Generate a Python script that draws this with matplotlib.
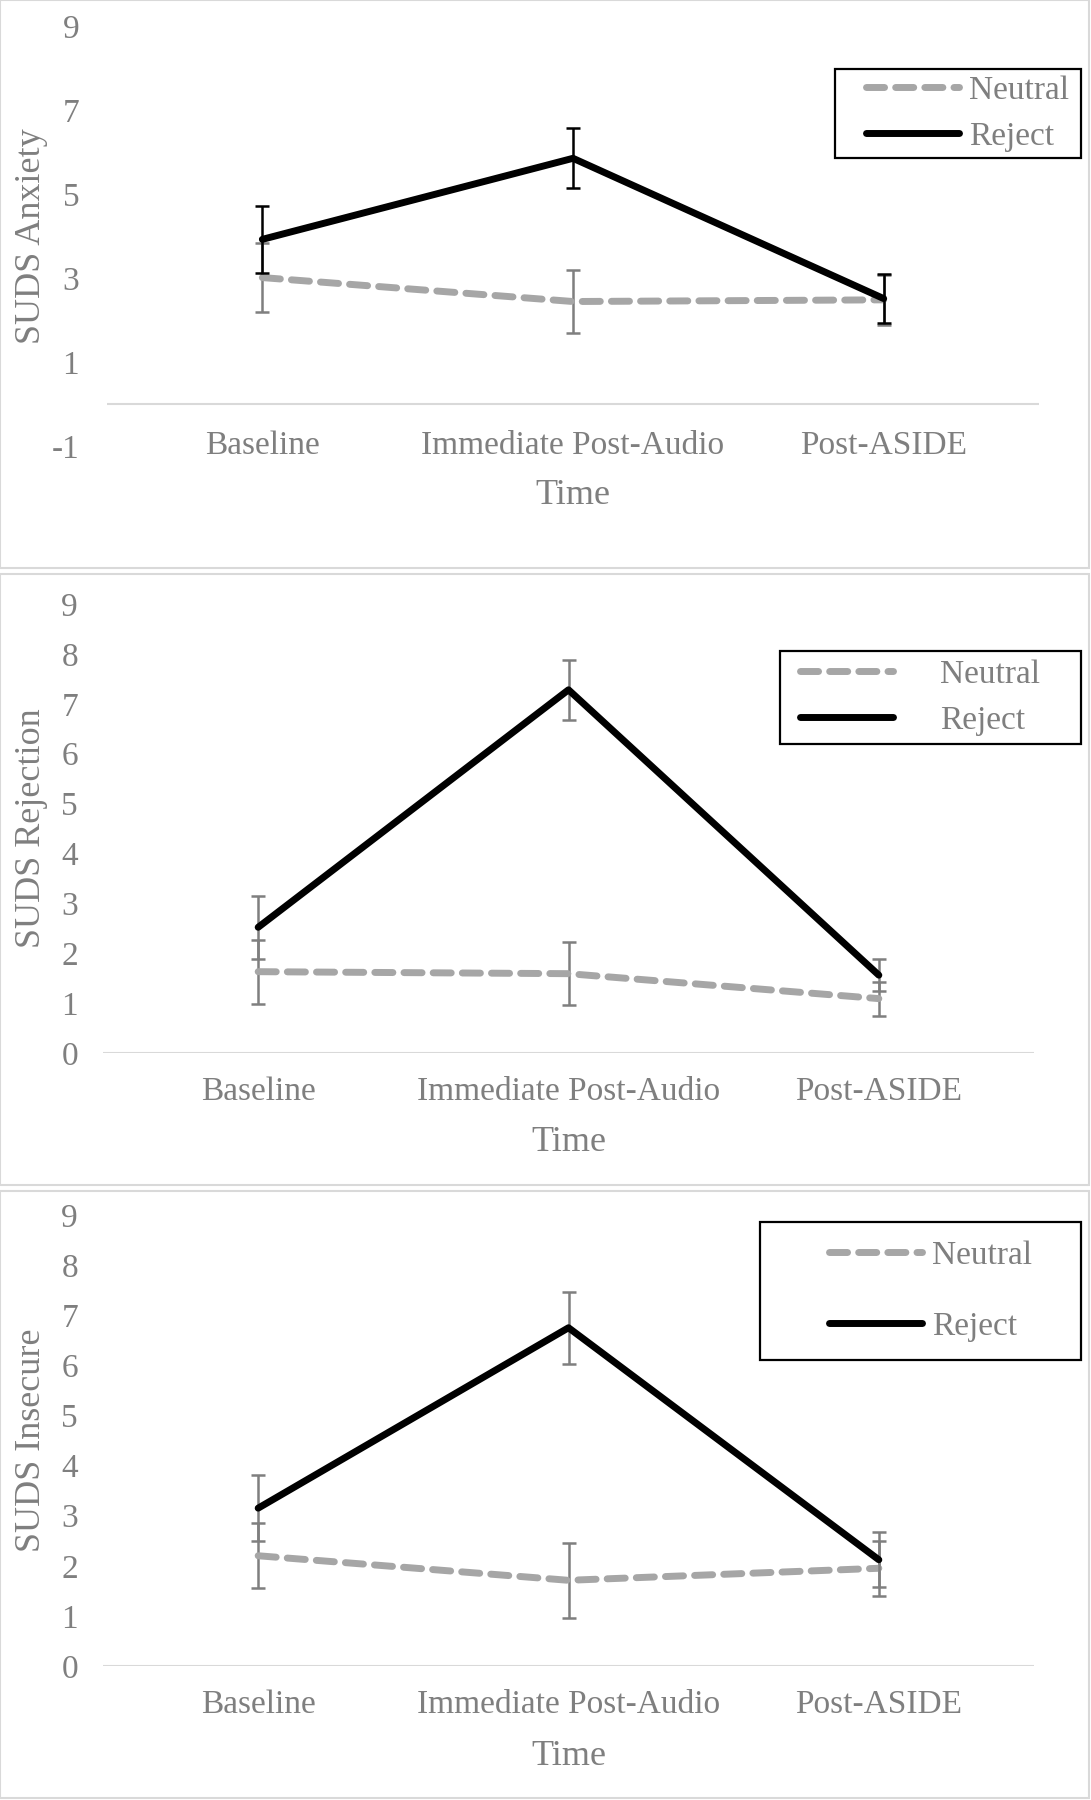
import matplotlib
matplotlib.use("Agg")
import matplotlib.pyplot as plt
from matplotlib.lines import Line2D
from matplotlib.patches import Rectangle

plt.rcParams['font.family'] = ['Liberation Serif', 'DejaVu Serif']
plt.rcParams['axes.unicode_minus'] = False

# data
categories = ['Baseline', 'Immediate Post-Audio', 'Post-ASIDE']

anx_reject = [3.92, 5.85, 2.51]
anx_reject_err = [0.79, 0.71, 0.59]
anx_neutral = [3.01, 2.44, 2.48]
anx_neutral_err = [0.82, 0.74, 0.60]

rej_reject = [2.52, 7.28, 1.56]
rej_reject_err = [0.63, 0.60, 0.32]
rej_neutral = [1.63, 1.59, 1.09]
rej_neutral_err = [0.64, 0.63, 0.34]

ins_reject = [3.15, 6.75, 2.12]
ins_reject_err = [0.66, 0.72, 0.55]
ins_neutral = [2.20, 1.71, 1.95]
ins_neutral_err = [0.65, 0.75, 0.55]

W, H = 1091, 1800
TXT = '#7f7f7f'
NEUTRAL = '#a6a6a6'
DASH = (0, (2.6, 1.6))
fig = plt.figure(figsize=(W / 100, H / 100), dpi=100)


def px_rect(x0, y0, x1, y1, color, lw):
    fig.add_artist(Rectangle((x0 / W, 1 - y1 / H), (x1 - x0) / W, (y1 - y0) / H,
                             transform=fig.transFigure, fill=False,
                             edgecolor=color, linewidth=lw))


def panel(box, ax_px, ylim, yticks, ylabel, reject, rerr, neutral, nerr,
          reject_err_color, cat_y, time_y, tick_pad,
          legend_box, legend_gap, text_pad, right_pad):
    # chart area border
    px_rect(*box, '#d9d9d9', 1.5)
    left, top, right, bottom = ax_px
    ax = fig.add_axes([left / W, 1 - bottom / H, (right - left) / W, (bottom - top) / H])
    x = [0.5, 1.5, 2.5]
    ax.errorbar(x, neutral, yerr=nerr, color=NEUTRAL, ecolor='#7f7f7f',
                elinewidth=1.8, capsize=5, capthick=1.8, linewidth=5,
                linestyle=DASH, dash_capstyle='round', zorder=2)
    ax.errorbar(x, reject, yerr=rerr, color='black', ecolor=reject_err_color,
                elinewidth=1.8, capsize=5, capthick=1.8, linewidth=5,
                solid_capstyle='round', zorder=3)
    ax.axhline(0, color='#d9d9d9', linewidth=1.5, zorder=1)
    ax.set_xlim(0, 3)
    ax.set_ylim(*ylim)
    ax.set_yticks(yticks)
    ax.set_xticks([])
    for s in ax.spines.values():
        s.set_visible(False)
    ax.tick_params(axis='y', length=0, pad=tick_pad, labelsize=24, labelcolor=TXT)
    for xi, c in zip(x, categories):
        ax.text(xi, cat_y, c, ha='center', va='center', fontsize=24, color=TXT, clip_on=False)
    ax.text(1.5, time_y, 'Time', ha='center', va='center', fontsize=26, color=TXT, clip_on=False)
    ax.set_ylabel(ylabel, fontsize=26, color=TXT)
    ax.yaxis.set_label_coords(-(left - 48) / (right - left), 0.5)

    # legend: frame drawn separately so its size matches the original box
    lx0, ly0, lx1, ly1 = legend_box
    px_rect(lx0, ly0, lx1, ly1, 'black', 1.6)
    handles = [Line2D([], [], color=NEUTRAL, linewidth=5, linestyle=DASH,
                      dash_capstyle='round'),
               Line2D([], [], color='black', linewidth=5, solid_capstyle='round')]
    fig.legend(handles, ['Neutral', 'Reject'], loc='center right',
               bbox_to_anchor=((lx1 - right_pad) / W, 1 - (ly0 + ly1) / 2 / H), fontsize=24,
               labelcolor=TXT, frameon=False, handlelength=2.8,
               handletextpad=text_pad, borderpad=0, labelspacing=legend_gap,
               borderaxespad=0)
    return ax


panel((0, 0, 1089, 568), (107, 26, 1039, 446), (-1, 9), [-1, 1, 3, 5, 7, 9],
      'SUDS Anxiety', anx_reject, anx_reject_err, anx_neutral, anx_neutral_err,
      'black', -1.0, -2.19, 20, (835, 69, 1081, 158), 0.45, 0.3, 12)
panel((0, 574, 1089, 1185), (103, 604, 1034, 1053), (0, 9), list(range(10)),
      'SUDS Rejection', rej_reject, rej_reject_err, rej_neutral, rej_neutral_err,
      '#7f7f7f', -0.78, -1.80, 18, (780, 651, 1081, 744), 0.45, 1.4, 41)
panel((0, 1191, 1089, 1798), (103, 1215, 1034, 1666), (0, 9), list(range(10)),
      'SUDS Insecure', ins_reject, ins_reject_err, ins_neutral, ins_neutral_err,
      '#7f7f7f', -0.78, -1.80, 18, (760, 1222, 1081, 1360), 1.2, 0.3, 49)

fig.savefig('out.png', dpi=100)
